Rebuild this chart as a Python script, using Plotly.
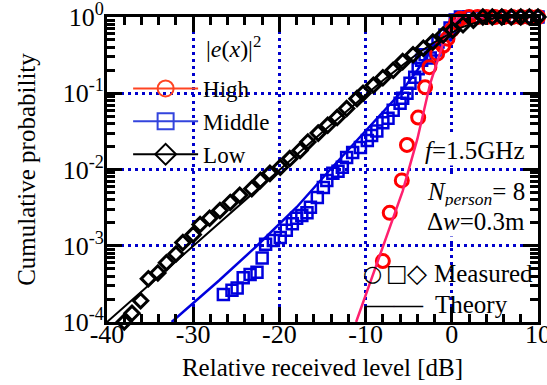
import plotly.graph_objects as go

# ---------------- data ----------------
# Measured: High (red circles)
high_x = [-8.0, -7.2, -5.8, -5.2, -3.9, -3.1, -2.6, -1.7, -1.0, -0.5, 0.0, 0.5, 1.0,
          2.0, 3.0, 4.0, 5.0, 6.0, 7.0, 8.0, 9.0, 10.0]
high_p = [6.3e-4, 2.7e-3, 7.2e-3, 0.021, 0.048, 0.12, 0.22, 0.33, 0.42, 0.52, 0.68, 0.85, 0.95,
          1.0, 1.0, 1.0, 1.0, 1.0, 1.0, 1.0, 1.0, 1.0]

# Measured: Middle (blue squares)
mid_x = [-26.5, -25.5, -24.9, -24.2, -23.4, -22.6, -22.0, -21.6, -20.7, -19.9, -19.2, -18.5,
         -18.0, -17.4, -16.8, -16.4, -15.6, -14.9, -14.5, -13.8, -13.2, -12.7, -12.2, -11.5,
         -10.6, -9.8, -9.3, -8.7, -8.0, -7.4, -6.8, -6.0, -5.7, -5.2, -4.85, -4.3, -3.9,
         -3.5, -3.1, -2.5, -1.95, -1.6, -0.8, -0.2, 0.4, 1.0, 2.0, 3.0, 4.0, 5.0, 6.0,
         7.0, 8.0, 9.0, 10.0]
mid_p = [2.3e-4, 2.6e-4, 2.8e-4, 3.8e-4, 4.2e-4, 4.5e-4, 6.9e-4, 1.05e-3, 1.17e-3, 1.28e-3,
         1.6e-3, 1.95e-3, 2.3e-3, 2.5e-3, 2.7e-3, 3.2e-3, 4.3e-3, 5.8e-3, 7.2e-3, 8.9e-3,
         9.5e-3, 0.0107, 0.0144, 0.0167, 0.0195, 0.024, 0.028, 0.032, 0.041, 0.047, 0.060,
         0.074, 0.086, 0.10, 0.135, 0.162, 0.21, 0.27, 0.32, 0.29, 0.37, 0.47, 0.58, 0.72,
         0.91, 1.0, 1.0, 1.0, 1.0, 1.0, 1.0, 1.0, 1.0, 1.0, 1.0]

# Measured: Low (black diamonds)
low_x = [-38.0, -37.1, -36.1, -35.2, -34.1, -33.1, -32.0, -31.2, -30.0, -29.2, -28.1, -26.9,
         -25.7, -24.6, -23.2, -22.2, -21.1, -19.9, -18.8, -17.6, -16.7, -15.5, -14.4, -13.3,
         -12.2, -11.0, -10.3, -9.1, -8.0, -6.8, -5.7, -4.5, -3.3, -2.2, -1.0, 0.1, 1.3, 2.5,
         3.6, 4.7, 5.8, 6.9, 8.0, 9.0, 10.0]
low_p = [1.0e-4, 1.3e-4, 1.9e-4, 3.7e-4, 4.4e-4, 6.0e-4, 7.8e-4, 1.1e-3, 1.4e-3, 1.9e-3,
         2.3e-3, 2.9e-3, 3.7e-3, 4.6e-3, 5.6e-3, 7.2e-3, 8.9e-3, 0.0107, 0.0139, 0.0178,
         0.023, 0.030, 0.038, 0.048, 0.063, 0.085, 0.10, 0.127, 0.16, 0.20, 0.26, 0.32, 0.39,
         0.47, 0.58, 0.67, 0.79, 0.91, 1.0, 1.0, 1.0, 1.0, 1.0, 1.0, 1.0]

# Theory curves
high_th_x = [-11.1, -8.0, -5.7, -4.0, -2.5, -1.0, 0.0, 1.0, 2.0, 10.0]
high_th_p = [1.0e-4, 1.0e-3, 5.2e-3, 0.025, 0.135, 0.45, 0.83, 0.99, 1.0, 1.0]

mid_th_x = [-32.5, -27.0, -22.6, -18.0, -14.1, -10.0, -6.0, -4.0, -3.0, -2.0, -1.0, 0.0, 1.0, 2.0, 10.0]
mid_th_p = [1.0e-4, 3.5e-4, 1.0e-3, 3.2e-3, 0.010, 0.032, 0.10, 0.20, 0.30, 0.44, 0.60, 0.83, 0.96, 1.0, 1.0]

low_th_x = [-40.0, -30.0, -20.0, -15.0, -10.0, -8.0, -6.0, -4.0, -2.0, 0.0, 1.0, 2.0, 3.0, 4.0,
            5.0, 6.0, 8.0, 10.0]
low_th_p = [1.0e-4, 1.0e-3, 9.9e-3, 0.031, 0.095, 0.147, 0.22, 0.33, 0.47, 0.63, 0.72, 0.79,
            0.86, 0.92, 0.96, 0.98, 0.998, 1.0]

# Axis ticks
x_tickvals = [-40, -30, -20, -10, 0, 10]
x_ticktext = ["-40", "-30", "-20", "-10", "0", "10"]
y_tickvals = [1e-4, 1e-3, 1e-2, 1e-1, 1]
y_ticktext = ["10<sup>-4</sup>", "10<sup>-3</sup>", "10<sup>-2</sup>", "10<sup>-1</sup>", "10<sup>0</sup>"]
y_minor = [m * 10.0 ** e for e in range(-4, 0) for m in range(2, 10)]

legend_names = ["High", "Middle", "Low"]

# ---------------- styling ----------------
FONT = "Liberation Serif"
RED = "#ff0000"
PINK = "#ff1f6e"
LEG_RED = "#ff4422"
BLUE = "#0000dd"
LEG_BLUE = "#3344dd"
GRID = "#0000cc"

fig = go.Figure()

# Middle
fig.add_trace(go.Scatter(x=mid_x, y=mid_p, mode="markers", showlegend=False, cliponaxis=False,
                         marker=dict(symbol="square-open", size=11, color=BLUE, line=dict(width=2.5, color=BLUE))))
fig.add_trace(go.Scatter(x=mid_th_x, y=mid_th_p, mode="lines", showlegend=False,
                         line=dict(color=BLUE, width=2.5)))
# High
fig.add_trace(go.Scatter(x=high_x, y=high_p, mode="markers", showlegend=False, cliponaxis=False,
                         marker=dict(symbol="circle-open", size=13, color=RED, line=dict(width=3, color=RED))))
fig.add_trace(go.Scatter(x=high_th_x, y=high_th_p, mode="lines", showlegend=False,
                         line=dict(color=PINK, width=2.5)))
# Low
fig.add_trace(go.Scatter(x=low_x, y=low_p, mode="markers", showlegend=False, cliponaxis=False,
                         marker=dict(symbol="diamond-open", size=11, color="black", line=dict(width=3, color="black"))))
fig.add_trace(go.Scatter(x=low_th_x, y=low_th_p, mode="lines", showlegend=False,
                         line=dict(color="black", width=2)))

# legend-only entries
for name, col, sym in zip(legend_names, [LEG_RED, LEG_BLUE, "black"],
                          ["circle-open", "square-open", "diamond-open"]):
    fig.add_trace(go.Scatter(x=[None], y=[None], mode="lines+markers", name=name,
                             line=dict(color=col, width=2),
                             marker=dict(symbol=sym, size=16, color=col, line=dict(width=2, color=col))))

axis_common = dict(
    showline=True, linewidth=3, linecolor="black", mirror="allticks",
    ticks="inside", ticklen=15, tickwidth=3, tickcolor="black",
    showgrid=True, gridcolor=GRID, gridwidth=2.5, griddash="3px,4px",
    zeroline=False, ticklabeloverflow="allow", automargin=False,
    tickfont=dict(family=FONT, size=26, color="black"),
)

fig.update_xaxes(range=[-40, 10], tickmode="array", tickvals=x_tickvals, ticktext=x_ticktext,
                 ticklabelstandoff=-13,
                 minor=dict(ticks="inside", ticklen=8, tickwidth=3, tickcolor="black", dtick=2,
                            tick0=0, showgrid=False),
                 title=dict(text="Relative received level [dB]", font=dict(family=FONT, size=25, color="black"),
                            standoff=11),
                 **axis_common)
fig.update_yaxes(type="log", range=[-4, 0], tickmode="array", tickvals=y_tickvals, ticktext=y_ticktext,
                 ticklabelstandoff=-5,
                 minor=dict(ticks="inside", ticklen=8, tickwidth=3, tickcolor="black",
                            tickmode="array", tickvals=y_minor, showgrid=False),
                 title=dict(text="Cumulative probability", font=dict(family=FONT, size=25, color="black"),
                            standoff=20),
                 **axis_common)

ann_font = dict(family=FONT, size=25, color="black")
fig.update_layout(
    width=547, height=385,
    margin=dict(l=107, r=9, t=17, b=63),
    plot_bgcolor="white", paper_bgcolor="white",
    font=dict(family=FONT, size=25, color="black"),
    legend=dict(x=0.049, y=0.836, xanchor="left", yanchor="top", bgcolor="rgba(0,0,0,0)",
                font=dict(family=FONT, size=23, color="black"), itemwidth=65, tracegroupgap=0),
    annotations=[
        dict(text="|<i>e</i>(<i>x</i>)|<sup>2</sup>", xref="paper", yref="paper", x=0.224, y=0.9,
             xanchor="left", yanchor="middle", showarrow=False,
             font=dict(family=FONT, size=24, color="black")),
        dict(text="<i>f</i>=1.5GHz", xref="paper", yref="paper", x=0.975, y=0.563,
             xanchor="right", yanchor="middle", showarrow=False, font=ann_font, bgcolor="white"),
        dict(text="<i>N</i><sub><i>person</i></sub>= 8", xref="paper", yref="paper", x=0.975, y=0.42,
             xanchor="right", yanchor="middle", showarrow=False, font=ann_font, bgcolor="white"),
        dict(text="Δ<i>w</i>=0.3m", xref="paper", yref="paper", x=0.975, y=0.331,
             xanchor="right", yanchor="middle", showarrow=False, font=ann_font, bgcolor="white"),
        dict(text="○", xref="paper", yref="paper", x=0.615, y=0.16,
             xanchor="center", yanchor="middle", showarrow=False,
             font=dict(family="DejaVu Sans", size=22, color="black")),
        dict(text="□", xref="paper", yref="paper", x=0.673, y=0.16,
             xanchor="center", yanchor="middle", showarrow=False,
             font=dict(family="DejaVu Sans", size=23, color="black")),
        dict(text="◇", xref="paper", yref="paper", x=0.72, y=0.16,
             xanchor="center", yanchor="middle", showarrow=False,
             font=dict(family="DejaVu Sans", size=26, color="black")),
        dict(text="Measured", xref="paper", yref="paper", x=0.993, y=0.16,
             xanchor="right", yanchor="middle", showarrow=False, font=ann_font),
        dict(text="——", xref="paper", yref="paper", x=0.666, y=0.059,
             xanchor="center", yanchor="middle", showarrow=False, font=dict(family=FONT, size=29, color="black")),
        dict(text="Theory", xref="paper", yref="paper", x=0.935, y=0.056,
             xanchor="right", yanchor="middle", showarrow=False, font=ann_font),
    ],
)

fig.write_html("out.html")
